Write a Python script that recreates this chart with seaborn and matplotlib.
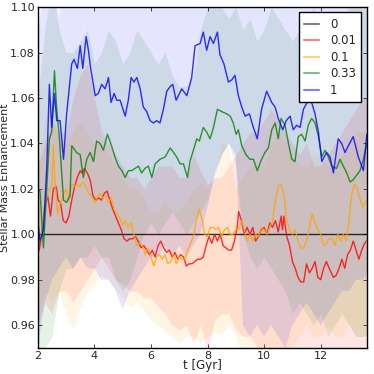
import matplotlib
matplotlib.use('Agg')
import matplotlib.pyplot as plt
from matplotlib.lines import Line2D
import seaborn as sns
import pandas as pd

# --- mean curves ---
t_zero = [2.0, 13.62]
v_zero = [1.0, 1.0]

t_red = [2.0, 2.05, 2.15, 2.25, 2.35, 2.45, 2.55, 2.65, 2.72, 2.8, 2.9, 3.0, 3.1, 3.2, 3.3, 3.4,
         3.5, 3.55, 3.65, 3.75, 3.85, 3.95, 4.05, 4.15, 4.25, 4.35, 4.45, 4.55, 4.65, 4.75, 4.85,
         4.95, 5.05, 5.15, 5.25, 5.35, 5.45, 5.55, 5.65, 5.75, 5.85, 5.95, 6.05, 6.15, 6.25, 6.35,
         6.45, 6.55, 6.65, 6.75, 6.85, 6.95, 7.05, 7.15, 7.25, 7.35, 7.45, 7.55, 7.65, 7.75, 7.85,
         7.95, 8.05, 8.15, 8.25, 8.35, 8.45, 8.55, 8.65, 8.75, 8.85, 8.95, 9.05, 9.1, 9.2, 9.3, 9.4,
         9.5, 9.6, 9.7, 9.8, 9.9, 10.0, 10.1, 10.2, 10.3, 10.4, 10.5, 10.6, 10.65, 10.7, 10.8, 10.9,
         11.0, 11.1, 11.2, 11.3, 11.4, 11.5, 11.6, 11.7, 11.8, 11.9, 12.0, 12.1, 12.2, 12.3, 12.45,
         12.55, 12.65, 12.75, 12.85, 12.95, 13.05, 13.15, 13.25, 13.35, 13.45, 13.55, 13.62]
v_red = [1.010, 0.993, 1.000, 1.012, 1.017, 1.008, 1.020, 1.021, 1.015, 1.014, 1.006, 1.005,
         1.008, 1.015, 1.021, 1.025, 1.028, 1.027, 1.029, 1.027, 1.024, 1.017, 1.015, 1.016,
         1.015, 1.018, 1.019, 1.015, 1.011, 1.008, 1.005, 1.002, 0.998, 0.997, 0.998, 0.998,
         0.999, 0.997, 0.994, 0.995, 0.993, 0.991, 0.993, 0.990, 0.995, 0.997, 0.994, 0.992,
         0.993, 0.990, 0.992, 0.989, 0.991, 0.990, 0.986, 0.987, 0.987, 0.988, 0.989, 0.989,
         0.990, 0.995, 0.999, 0.996, 1.000, 0.997, 1.000, 0.995, 0.994, 0.993, 0.993, 0.997,
         1.003, 1.010, 1.006, 1.000, 1.003, 1.000, 1.003, 0.997, 0.999, 1.002, 1.003, 1.000,
         1.005, 1.003, 1.006, 1.001, 1.008, 1.002, 1.008, 0.999, 0.995, 0.988, 0.985, 0.981,
         0.979, 0.979, 0.987, 0.983, 0.985, 0.988, 0.981, 0.980, 0.985, 0.988, 0.985, 0.981,
         0.982, 0.985, 0.989, 0.985, 0.991, 0.993, 0.997, 0.993, 0.989, 0.993, 0.996, 0.997]

t_orange = [2.0, 2.05, 2.1, 2.2, 2.3, 2.4, 2.5, 2.55, 2.6, 2.7, 2.8, 2.9, 3.0, 3.1, 3.2, 3.3, 3.4,
            3.5, 3.6, 3.7, 3.8, 3.9, 4.0, 4.1, 4.2, 4.3, 4.4, 4.5, 4.6, 4.7, 4.8, 4.9, 5.0, 5.1,
            5.2, 5.3, 5.4, 5.5, 5.6, 5.7, 5.8, 5.9, 6.0, 6.1, 6.2, 6.3, 6.4, 6.5, 6.6, 6.7, 6.8,
            6.9, 7.0, 7.1, 7.2, 7.3, 7.4, 7.5, 7.6, 7.7, 7.8, 7.9, 8.0, 8.1, 8.2, 8.3, 8.4, 8.5,
            8.6, 8.7, 8.8, 8.9, 9.0, 9.1, 9.2, 9.3, 9.4, 9.5, 9.6, 9.7, 9.8, 9.9, 10.0, 10.1, 10.2,
            10.3, 10.4, 10.5, 10.6, 10.7, 10.8, 10.9, 11.0, 11.1, 11.2, 11.3, 11.4, 11.5, 11.6,
            11.7, 11.8, 11.9, 12.0, 12.1, 12.2, 12.3, 12.4, 12.5, 12.6, 12.7, 12.8, 12.9, 13.0,
            13.1, 13.2, 13.3, 13.4, 13.5, 13.62]
v_orange = [1.024, 1.000, 0.997, 1.006, 1.015, 1.020, 1.021, 1.039, 1.025, 1.009, 1.014, 1.017,
            1.020, 1.015, 1.022, 1.021, 1.022, 1.021, 1.023, 1.021, 1.018, 1.017, 1.014, 1.016,
            1.018, 1.016, 1.017, 1.014, 1.016, 1.011, 1.009, 1.007, 1.004, 1.006, 1.003, 1.005,
            1.000, 0.995, 0.996, 0.995, 0.991, 0.994, 0.990, 0.986, 0.990, 0.991, 0.989, 0.991,
            0.987, 0.988, 0.991, 0.987, 0.990, 0.989, 0.989, 0.993, 0.996, 0.999, 1.006, 1.011,
            1.007, 1.000, 0.999, 1.003, 1.003, 1.002, 1.003, 0.999, 1.002, 1.003, 1.000, 1.000,
            1.002, 1.002, 1.006, 1.002, 0.997, 1.000, 0.997, 1.000, 0.999, 1.003, 1.002, 1.000,
            1.003, 1.006, 1.015, 1.021, 1.022, 1.018, 1.006, 1.002, 1.000, 1.002, 0.997, 0.994,
            0.994, 0.997, 1.003, 1.009, 1.005, 1.002, 1.000, 0.995, 0.996, 0.998, 0.998, 0.995,
            1.000, 0.997, 1.000, 0.997, 1.006, 1.018, 1.022, 1.020, 1.015, 1.012, 1.015]

t_green = [2.0, 2.08, 2.2, 2.32, 2.41, 2.49, 2.59, 2.67, 2.76, 2.91, 3.02, 3.14, 3.2, 3.37, 3.5,
           3.61, 3.73, 3.85, 3.97, 4.08, 4.2, 4.32, 4.46, 4.58, 4.73, 4.85, 4.97, 5.09, 5.2, 5.32,
           5.44, 5.56, 5.67, 5.79, 5.91, 6.03, 6.15, 6.32, 6.5, 6.68, 6.8, 6.91, 7.03, 7.15, 7.29,
           7.38, 7.5, 7.62, 7.71, 7.85, 7.97, 8.09, 8.21, 8.35, 8.5, 8.68, 8.8, 8.91, 9.01, 9.09,
           9.21, 9.36, 9.5, 9.62, 9.76, 9.91, 10.03, 10.15, 10.27, 10.39, 10.5, 10.6, 10.74, 10.86,
           10.98, 11.09, 11.21, 11.33, 11.45, 11.56, 11.68, 11.8, 11.92, 12.04, 12.15, 12.27,
           12.39, 12.56, 12.68, 12.8, 12.92, 13.04, 13.15, 13.27, 13.39, 13.51, 13.63]
v_green = [1.020, 1.019, 0.994, 1.021, 1.042, 1.045, 1.072, 1.055, 1.043, 1.015, 1.014, 1.017,
           1.039, 1.036, 1.035, 1.025, 1.033, 1.036, 1.032, 1.041, 1.040, 1.037, 1.044, 1.040,
           1.034, 1.030, 1.028, 1.025, 1.028, 1.028, 1.029, 1.030, 1.027, 1.029, 1.030, 1.025,
           1.031, 1.033, 1.034, 1.038, 1.036, 1.034, 1.031, 1.031, 1.025, 1.032, 1.037, 1.042,
           1.041, 1.047, 1.045, 1.042, 1.047, 1.055, 1.054, 1.053, 1.052, 1.049, 1.044, 1.046,
           1.039, 1.035, 1.033, 1.033, 1.028, 1.033, 1.036, 1.038, 1.046, 1.049, 1.042, 1.051,
           1.048, 1.040, 1.033, 1.032, 1.043, 1.044, 1.041, 1.048, 1.051, 1.049, 1.043, 1.034,
           1.037, 1.034, 1.030, 1.029, 1.033, 1.030, 1.027, 1.023, 1.024, 1.026, 1.028, 1.033,
           1.040]

t_blue = [2.0, 2.08, 2.2, 2.32, 2.41, 2.49, 2.59, 2.67, 2.79, 2.91, 3.02, 3.2, 3.28, 3.4, 3.5,
          3.59, 3.71, 3.79, 3.87, 4.03, 4.14, 4.26, 4.38, 4.5, 4.59, 4.7, 4.79, 4.91, 5.09, 5.2,
          5.3, 5.4, 5.5, 5.62, 5.73, 5.85, 5.97, 6.09, 6.2, 6.32, 6.44, 6.56, 6.68, 6.77, 6.89,
          7.09, 7.27, 7.44, 7.56, 7.74, 7.85, 7.97, 8.09, 8.21, 8.35, 8.44, 8.58, 8.74, 8.86,
          8.97, 9.09, 9.21, 9.33, 9.48, 9.62, 9.76, 9.91, 10.09, 10.27, 10.39, 10.5, 10.66, 10.78,
          10.92, 11.03, 11.15, 11.27, 11.39, 11.56, 11.68, 11.8, 11.92, 12.04, 12.21, 12.33,
          12.45, 12.62, 12.74, 12.86, 12.98, 13.15, 13.33, 13.51, 13.63]
v_blue = [1.006, 0.997, 1.002, 1.030, 1.066, 1.047, 1.062, 1.050, 1.050, 1.033, 1.053, 1.075,
          1.077, 1.073, 1.083, 1.073, 1.087, 1.081, 1.073, 1.061, 1.062, 1.066, 1.064, 1.069,
          1.058, 1.062, 1.059, 1.059, 1.052, 1.059, 1.069, 1.067, 1.069, 1.064, 1.056, 1.054,
          1.050, 1.049, 1.050, 1.049, 1.055, 1.063, 1.065, 1.066, 1.059, 1.064, 1.061, 1.069,
          1.083, 1.084, 1.089, 1.081, 1.087, 1.084, 1.089, 1.079, 1.075, 1.067, 1.068, 1.070,
          1.061, 1.056, 1.052, 1.053, 1.047, 1.042, 1.055, 1.063, 1.058, 1.056, 1.051, 1.046,
          1.050, 1.052, 1.046, 1.048, 1.047, 1.055, 1.059, 1.058, 1.053, 1.045, 1.032, 1.036,
          1.034, 1.027, 1.042, 1.040, 1.036, 1.039, 1.043, 1.034, 1.028, 1.044]

# --- scatter bands (lower / upper) ---
t_band = [2.0, 2.25, 2.5, 2.75, 3.0, 3.25, 3.5, 3.75, 4.0, 4.25, 4.5, 4.75, 5.0, 5.25, 5.5, 5.75,
          6.0, 6.25, 6.5, 6.75, 7.0, 7.25, 7.5, 7.75, 8.0, 8.25, 8.5, 8.75, 9.0, 9.25, 9.5, 9.75,
          10.0, 10.25, 10.5, 10.75, 11.0, 11.25, 11.5, 11.75, 12.0, 12.25, 12.5, 12.75, 13.0,
          13.25, 13.5, 13.75]

red_lo = [0.96, 0.97, 0.965, 0.975, 0.975, 0.97, 0.975, 0.98, 0.985, 0.99, 0.985, 0.98, 0.978,
          0.975, 0.975, 0.972, 0.972, 0.968, 0.965, 0.96, 0.958, 0.96, 0.952, 0.96, 0.948, 0.962,
          0.965, 0.965, 0.958, 0.955, 0.955, 0.95, 0.945, 0.945, 0.94, 0.945, 0.94, 0.94, 0.94,
          0.94, 0.94, 0.94, 0.94, 0.94, 0.94, 0.945, 0.945, 0.945]
red_hi = [1.03, 1.04, 1.05, 1.045, 1.045, 1.06, 1.07, 1.075, 1.06, 1.045, 1.04, 1.035, 1.03,
          1.025, 1.025, 1.02, 1.025, 1.03, 1.03, 1.03, 1.025, 1.025, 1.035, 1.028, 1.022, 1.025,
          1.025, 1.03, 1.035, 1.04, 1.045, 1.045, 1.05, 1.055, 1.05, 1.045, 1.04, 1.035, 1.04,
          1.03, 1.03, 1.035, 1.04, 1.045, 1.05, 1.055, 1.06, 1.06]

orange_lo = [0.965, 0.975, 0.97, 0.975, 0.965, 0.958, 0.968, 0.975, 0.978, 0.982, 0.98, 0.976,
             0.972, 0.968, 0.97, 0.966, 0.962, 0.96, 0.957, 0.955, 0.952, 0.955, 0.955, 0.952,
             0.955, 0.957, 0.956, 0.96, 0.955, 0.945, 0.94, 0.94, 0.945, 0.945, 0.945, 0.95,
             0.95, 0.955, 0.96, 0.955, 0.955, 0.96, 0.955, 0.955, 0.96, 0.955, 0.955, 0.96]
orange_hi = [1.03, 1.05, 1.06, 1.04, 1.04, 1.045, 1.05, 1.045, 1.04, 1.04, 1.035, 1.03, 1.025,
             1.02, 1.02, 1.015, 1.01, 1.01, 1.015, 1.01, 1.01, 1.015, 1.02, 1.022, 1.02, 1.025,
             1.04, 1.038, 1.02, 1.025, 1.03, 1.03, 1.03, 1.04, 1.045, 1.04, 1.035, 1.03, 1.03,
             1.035, 1.035, 1.03, 1.03, 1.035, 1.04, 1.045, 1.045, 1.045]

green_lo = [0.95, 0.95, 0.955, 0.975, 0.985, 0.985, 0.99, 0.99, 0.995, 0.99, 0.99, 0.98, 0.975,
            0.98, 0.99, 1.0, 1.005, 1.0, 1.005, 1.01, 1.005, 1.0, 1.005, 1.01, 1.015, 1.028,
            1.035, 1.04, 1.03, 1.0, 0.99, 0.985, 0.99, 0.985, 0.98, 0.975, 0.965, 0.97, 0.965,
            0.96, 0.965, 0.955, 0.96, 0.965, 0.96, 0.955, 0.955, 0.955]
green_hi = [1.06, 1.09, 1.11, 1.09, 1.08, 1.08, 1.085, 1.09, 1.075, 1.08, 1.09, 1.085, 1.075,
            1.08, 1.09, 1.085, 1.08, 1.075, 1.08, 1.07, 1.065, 1.065, 1.07, 1.09, 1.10, 1.105,
            1.10, 1.095, 1.10, 1.09, 1.095, 1.085, 1.09, 1.10, 1.095, 1.09, 1.085, 1.09, 1.095,
            1.10, 1.09, 1.085, 1.09, 1.095, 1.10, 1.105, 1.10, 1.10]

blue_lo = [0.95, 0.97, 0.98, 0.985, 0.99, 0.985, 0.99, 0.985, 0.985, 0.98, 0.98, 0.975, 0.967,
           0.975, 0.98, 0.985, 0.99, 0.99, 0.995, 0.99, 0.995, 0.99, 0.995, 1.0, 1.012, 1.025,
           1.035, 1.04, 1.035, 0.96, 0.955, 0.96, 0.955, 0.96, 0.955, 0.95, 0.96, 0.965, 0.97,
           0.965, 0.96, 0.965, 0.97, 0.975, 0.975, 0.98, 0.98, 0.985]
blue_hi = [1.085, 1.12, 1.13, 1.095, 1.13, 1.14, 1.14, 1.15, 1.14, 1.14, 1.13, 1.13, 1.13, 1.12,
           1.12, 1.12, 1.12, 1.12, 1.11, 1.12, 1.12, 1.13, 1.14, 1.14, 1.14, 1.14, 1.13, 1.13,
           1.12, 1.12, 1.12, 1.12, 1.12, 1.12, 1.12, 1.12, 1.12, 1.11, 1.11, 1.11, 1.11, 1.11,
           1.11, 1.11, 1.11, 1.11, 1.11, 1.11]

labels = ['0', '0.01', '0.1', '0.33', '1']
colors = {'0': 'black', '0.01': 'red', '0.1': 'orange', '0.33': 'green', '1': 'blue'}

curves = {'0': (t_zero, v_zero), '0.01': (t_red, v_red), '0.1': (t_orange, v_orange),
          '0.33': (t_green, v_green), '1': (t_blue, v_blue)}
rows = []
for lab in labels:
    ts, vs = curves[lab]
    rows += [{'t': a, 'val': b, 'f': lab} for a, b in zip(ts, vs)]
df = pd.DataFrame(rows)

bands = [('0.01', red_lo, red_hi), ('0.1', orange_lo, orange_hi),
         ('0.33', green_lo, green_hi), ('1', blue_lo, blue_hi)]

sns.set_style("ticks")
plt.rcParams['font.family'] = ['DejaVu Sans']
plt.rcParams['xtick.direction'] = 'in'
plt.rcParams['ytick.direction'] = 'in'

fig = plt.figure(figsize=(3.74, 3.74), dpi=100)
ax = fig.add_axes([0.101, 0.070, 0.879, 0.911])

for lab, lo, hi in bands:
    ax.fill_between(t_band, lo, hi, color=colors[lab], alpha=0.1, lw=0)

sns.lineplot(data=df, x='t', y='val', hue='f', hue_order=labels, palette=colors,
             lw=1.0, alpha=0.8, legend=False, ax=ax, estimator=None, sort=False)

ax.set_xlim(2, 13.62)
ax.set_ylim(0.95, 1.10)
ax.set_xticks([2, 4, 6, 8, 10, 12])
ax.set_yticks([0.96, 0.98, 1.00, 1.02, 1.04, 1.06, 1.08, 1.10])
ax.set_yticklabels(['0.96', '0.98', '1.00', '1.02', '1.04', '1.06', '1.08', '1.10'])
ax.tick_params(axis='both', labelsize=8, top=True, right=True, length=3, width=0.6, pad=2)
for s in ax.spines.values():
    s.set_color('black')
    s.set_linewidth(1.0)
ax.set_xlabel('t [Gyr]', fontsize=8.5, labelpad=-1)
ax.set_ylabel('Stellar Mass Enhancement', fontsize=8)
ax.yaxis.set_label_coords(-0.084, 0.5)

handles = [Line2D([0], [0], color=colors[l], lw=1.5, alpha=0.5) for l in labels]
leg = ax.legend(handles, labels, loc='upper right', fontsize=8.5, frameon=True, fancybox=False,
                borderaxespad=0.45, handlelength=1.3, handletextpad=0.9, labelspacing=0.3,
                borderpad=0.45)
leg.get_frame().set_edgecolor('black')
leg.get_frame().set_alpha(1.0)

fig.savefig('out.png', dpi=100)
